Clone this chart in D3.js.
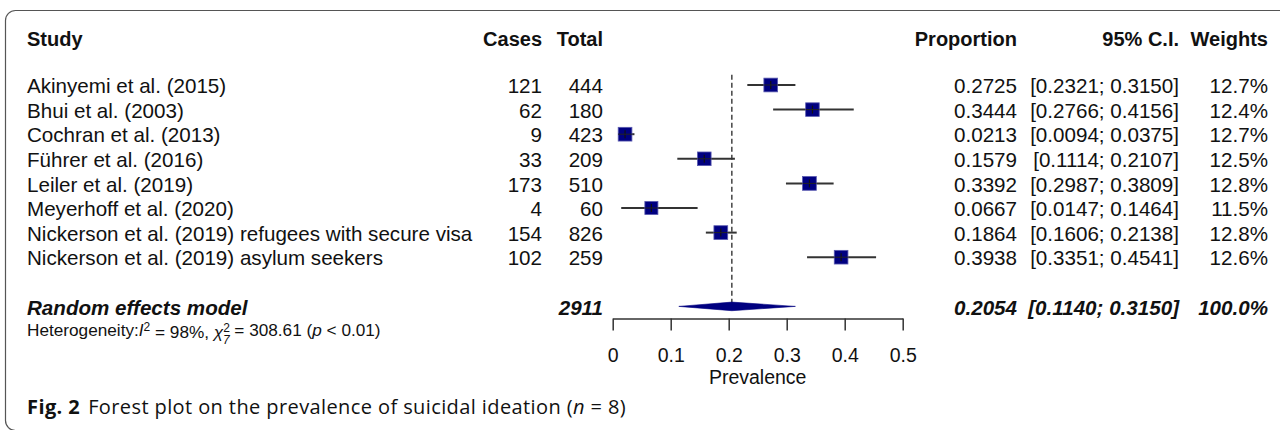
<!DOCTYPE html>
<html>
<head>
<meta charset="utf-8">
<script src="https://cdn.jsdelivr.net/npm/d3@7"></script>
<style>
  body { margin: 0; background: #fff; }
  svg text { font-family: "Liberation Sans", Arial, sans-serif; fill: #111; }
  svg text.caption { font-family: "Open Sans", sans-serif; }
</style>
</head>
<body>
<div id="forest"></div>
<script>
// Study data
const studies = [
    "Akinyemi et al. (2015)",
    "Bhui et al. (2003)",
    "Cochran et al. (2013)",
    "Führer et al. (2016)",
    "Leiler et al. (2019)",
    "Meyerhoff et al. (2020)",
    "Nickerson et al. (2019) refugees with secure visa",
    "Nickerson et al. (2019) asylum seekers"
];
const cases = [121, 62, 9, 33, 173, 4, 154, 102];
const totals = [444, 180, 423, 209, 510, 60, 826, 259];
const proportions = [0.2725, 0.3444, 0.0213, 0.1579, 0.3392, 0.0667, 0.1864, 0.3938];
const ciLower = [0.2321, 0.2766, 0.0094, 0.1114, 0.2987, 0.0147, 0.1606, 0.3351];
const ciUpper = [0.3150, 0.4156, 0.0375, 0.2107, 0.3809, 0.1464, 0.2138, 0.4541];
const weights = [12.7, 12.4, 12.7, 12.5, 12.8, 11.5, 12.8, 12.6];

// Random effects summary
const pooledTotal = 2911;
const pooledEstimate = 0.2054;
const pooledLower = 0.1140;
const pooledUpper = 0.3150;
const pooledWeight = 100.0;

const xTicks = [0, 0.1, 0.2, 0.3, 0.4, 0.5];

const width = 1280, height = 430;

const svg = d3.select("#forest")
    .append("svg")
    .attr("width", width)
    .attr("height", height);

// frame around the figure (only top/left visible)
svg.append("rect")
    .attr("x", 5.5)
    .attr("y", 10.5)
    .attr("width", 1300)
    .attr("height", 420)
    .attr("rx", 10)
    .attr("fill", "none")
    .attr("stroke", "#555")
    .attr("stroke-width", 1.2);

// scales
const x = d3.scaleLinear().domain([0, 0.5]).range([612.7, 902.7]);
const row = d3.scaleLinear().domain([0, 1]).range([85, 109.6]); // row index -> y centre

const f4 = d3.format(".4f");
const colStudy = 27, colCases = 542, colTotal = 603, colProp = 1017, colCI = 1179, colWeight = 1268;
const fs = 20.6;
const tdy = "0.4em";

// header
const header = svg.append("g").attr("font-weight", "bold").attr("font-size", 20);
const hy = 38;
header.append("text").attr("x", colStudy).attr("y", hy).attr("dy", tdy).text("Study");
header.append("text").attr("x", colCases).attr("y", hy).attr("dy", tdy).attr("text-anchor", "end").text("Cases");
header.append("text").attr("x", colTotal).attr("y", hy).attr("dy", tdy).attr("text-anchor", "end").text("Total");
header.append("text").attr("x", colProp).attr("y", hy).attr("dy", tdy).attr("text-anchor", "end").text("Proportion");
header.append("text").attr("x", colCI).attr("y", hy).attr("dy", tdy).attr("text-anchor", "end").text("95% C.I.");
header.append("text").attr("x", colWeight).attr("y", hy).attr("dy", tdy).attr("text-anchor", "end").text("Weights");

// study rows (text columns)
const rows = svg.append("g").attr("font-size", fs)
    .selectAll("g")
    .data(studies)
    .join("g")
    .attr("transform", (d, i) => `translate(0,${row(i)})`);

rows.append("text").attr("x", colStudy).attr("dy", tdy).text(d => d);
rows.append("text").attr("x", colCases).attr("dy", tdy).attr("text-anchor", "end").text((d, i) => cases[i]);
rows.append("text").attr("x", colTotal).attr("dy", tdy).attr("text-anchor", "end").text((d, i) => totals[i]);
rows.append("text").attr("x", colProp).attr("dy", tdy).attr("text-anchor", "end").text((d, i) => f4(proportions[i]));
rows.append("text").attr("x", colCI).attr("dy", tdy).attr("text-anchor", "end")
    .text((d, i) => `[${f4(ciLower[i])}; ${f4(ciUpper[i])}]`);
rows.append("text").attr("x", colWeight).attr("dy", tdy).attr("text-anchor", "end")
    .text((d, i) => weights[i].toFixed(1) + "%");

// pooled row
const pooledRow = 9;
const py = row(pooledRow);
const pooled = svg.append("g").attr("font-size", fs).attr("font-weight", "bold").attr("font-style", "italic");
pooled.append("text").attr("x", colStudy).attr("y", py).attr("dy", tdy).text("Random effects model");
pooled.append("text").attr("x", colTotal).attr("y", py).attr("dy", tdy).attr("text-anchor", "end").text(pooledTotal);
pooled.append("text").attr("x", colProp).attr("y", py).attr("dy", tdy).attr("text-anchor", "end").text(f4(pooledEstimate));
pooled.append("text").attr("x", colCI).attr("y", py).attr("dy", tdy).attr("text-anchor", "end")
    .text(`[${f4(pooledLower)}; ${f4(pooledUpper)}]`);
pooled.append("text").attr("x", colWeight).attr("y", py).attr("dy", tdy).attr("text-anchor", "end")
    .text(pooledWeight.toFixed(1) + "%");

// heterogeneity line
const het = svg.append("text").attr("x", colStudy).attr("y", row(10) - 1).attr("dy", "0.35em").attr("font-size", 17.2);
het.append("tspan").text("Heterogeneity:");
het.append("tspan").attr("font-style", "italic").text("I");
het.append("tspan").attr("font-size", 12).attr("dy", "-0.45em").text("2");
het.append("tspan").attr("dy", "0.45em").text(" = 98%, ");
het.append("tspan").attr("font-style", "italic").text("χ");
het.append("tspan").attr("font-size", 12).attr("dy", "-0.5em").text("2");
het.append("tspan").attr("font-size", 12).attr("dx", -7).attr("dy", "1.0em").attr("font-style", "italic").text("7");
het.append("tspan").attr("dy", "-0.5em").text(" = 308.61 (");
het.append("tspan").attr("font-style", "italic").text("p");
het.append("tspan").text(" < 0.01)");

// dashed line at pooled estimate
svg.append("line")
    .attr("x1", x(pooledEstimate)).attr("x2", x(pooledEstimate))
    .attr("y1", row(-0.42)).attr("y2", py - 4)
    .attr("stroke", "#444")
    .attr("stroke-width", 1.5)
    .attr("stroke-dasharray", "5,3");

// CI lines
const marks = svg.append("g");
marks.selectAll("line.ci")
    .data(studies)
    .join("line")
    .attr("class", "ci")
    .attr("x1", (d, i) => x(ciLower[i]))
    .attr("x2", (d, i) => x(ciUpper[i]))
    .attr("y1", (d, i) => row(i))
    .attr("y2", (d, i) => row(i))
    .attr("stroke", "#333")
    .attr("stroke-width", 2);

// squares, area proportional to weight
const side = w => 3.85 * Math.sqrt(w);
marks.selectAll("rect.sq")
    .data(studies)
    .join("rect")
    .attr("class", "sq")
    .attr("x", (d, i) => x(proportions[i]) - side(weights[i]) / 2)
    .attr("y", (d, i) => row(i) - side(weights[i]) / 2)
    .attr("width", (d, i) => side(weights[i]))
    .attr("height", (d, i) => side(weights[i]))
    .attr("fill", "#000080")
    .attr("stroke", "#5a5ab0")
    .attr("stroke-width", 0.8);

// small estimate tick inside square
marks.selectAll("line.est")
    .data(studies)
    .join("line")
    .attr("class", "est")
    .attr("x1", (d, i) => x(proportions[i]))
    .attr("x2", (d, i) => x(proportions[i]))
    .attr("y1", (d, i) => row(i) - 4)
    .attr("y2", (d, i) => row(i) + 4)
    .attr("stroke", "#111")
    .attr("stroke-width", 1.2);
marks.selectAll("line.ci2")
    .data(studies)
    .join("line")
    .attr("class", "ci2")
    .attr("x1", (d, i) => x(proportions[i]) - side(weights[i]) / 2)
    .attr("x2", (d, i) => x(proportions[i]) + side(weights[i]) / 2)
    .attr("y1", (d, i) => row(i))
    .attr("y2", (d, i) => row(i))
    .attr("stroke", "#222")
    .attr("stroke-width", 1);

// pooled diamond
const dh = 4.3;
svg.append("path")
    .attr("d", `M${x(pooledLower)},${py} L${x(pooledEstimate)},${py - dh} L${x(pooledUpper)},${py} L${x(pooledEstimate)},${py + dh} Z`)
    .attr("fill", "#000080")
    .attr("stroke", "#000080")
    .attr("stroke-width", 0.6);

// x axis
const axisY = 318.5;
const axis = svg.append("g")
    .attr("transform", `translate(0,${axisY})`)
    .call(d3.axisBottom(x).tickValues(xTicks).tickFormat(d => d === 0 ? "0" : d3.format(".1f")(d))
        .tickSize(12).tickSizeOuter(0).tickPadding(18));
axis.select(".domain").attr("stroke", "#333").attr("stroke-width", 1.5);
axis.selectAll(".tick line").attr("stroke", "#333").attr("stroke-width", 1.5);
axis.selectAll(".tick text")
    .attr("font-size", 19.5)
    .attr("font-family", "Liberation Sans, Arial, sans-serif")
    .attr("fill", "#111");

svg.append("text")
    .attr("x", x(0.25))
    .attr("y", 377)
    .attr("dy", "0.35em")
    .attr("text-anchor", "middle")
    .attr("font-size", 19.5)
    .text("Prevalence");

// caption
const cap = svg.append("text")
    .attr("class", "caption")
    .attr("x", colStudy)
    .attr("y", 407)
    .attr("dy", "0.35em")
    .attr("font-size", 20)
    .attr("letter-spacing", 0.4)
    .attr("fill", "#222");
cap.append("tspan").attr("font-weight", "bold").text("Fig. 2");
cap.append("tspan").attr("dx", 8).text("Forest plot on the prevalence of suicidal ideation (");
cap.append("tspan").attr("font-style", "italic").text("n");
cap.append("tspan").text(" = 8)");
</script>
</body>
</html>
